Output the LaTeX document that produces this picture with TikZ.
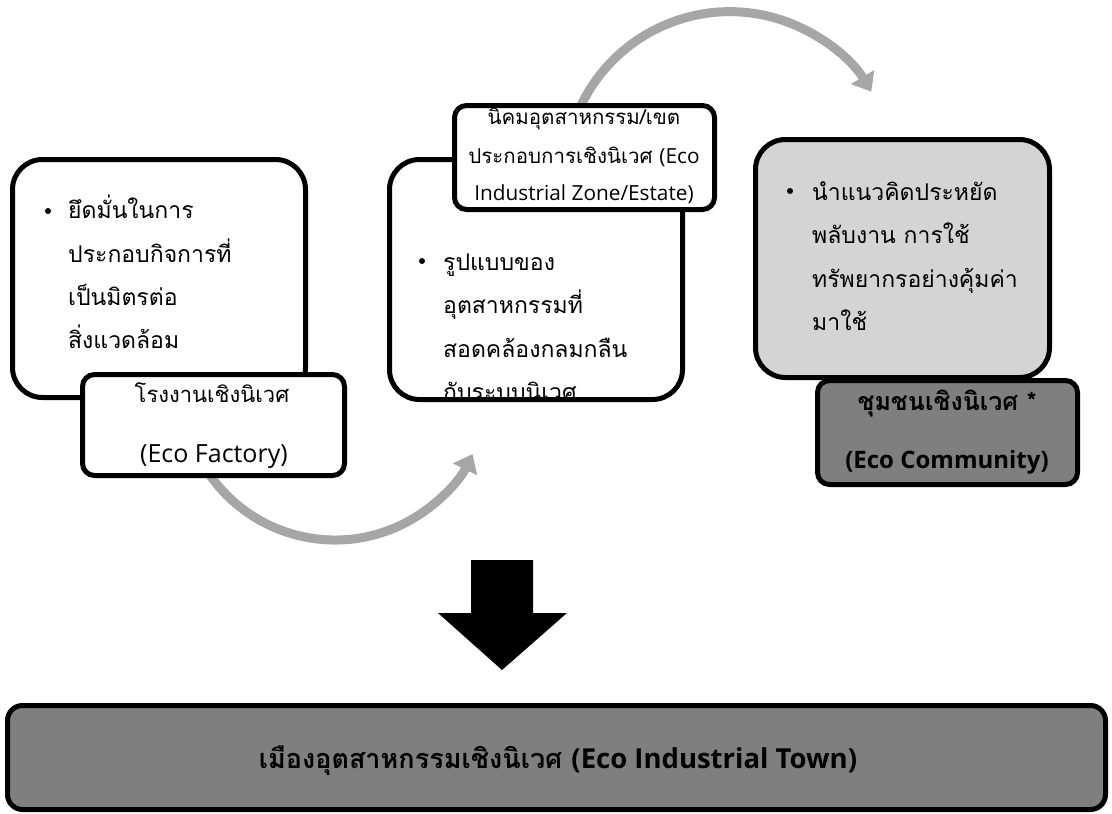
\documentclass[tikz,border=0pt]{standalone}
\usepackage{fontspec}
\setmainfont[Script=Thai]{Loma}
\newfontfamily\latf{Open Sans}
\usetikzlibrary{arrows.meta}
\definecolor{arrowgray}{HTML}{A6A6A6}
\definecolor{lightfill}{HTML}{D4D4D4}
\definecolor{darkfill}{HTML}{7F7F7F}
\newcommand{\fs}[1]{\fontsize{#1}{#1}\selectfont}
\begin{document}
\begin{tikzpicture}[x=1pt,y=-1pt,line join=round]
\tikzset{
  border/.style={draw=black,line width=5pt},
  bodytxt/.style={inner sep=0pt,anchor=base west,font=\fs{23}},
  labtxt/.style={inner sep=0pt,anchor=base},
  bulletdot/.style={circle,fill=black,inner sep=0pt,minimum size=6pt},
  circarrow/.style={draw=arrowgray,line width=9pt,-{Triangle[length=17pt,width=26pt]}},
}
\useasboundingbox (0,0) rectangle (1112,814);
\fill[white] (0,0) rectangle (1112,814);

% ---- curved arrow 1 (behind Eco Factory label)
\coordinate (c1) at (335,387);
\draw[circarrow] (c1) ++(150:153) arc[start angle=150,end angle=26,radius=153];

% ---- Box 1
\fill[white,rounded corners=30pt] (12.5,159.5) rectangle (305.5,397.5);
\draw[border,rounded corners=30pt] (12.5,159.5) rectangle (305.5,397.5);
\node[bulletdot] (b1) at (48,211) {};
\node[bodytxt] (t11) at (68,218) {ยึดมั่นในการ};
\node[bodytxt] (t12) at (68,262) {ประกอบกิจการที่};
\node[bodytxt] (t13) at (68,305) {เป็นมิตรต่อ};
\node[bodytxt] (t14) at (68,348) {สิ่งแวดล้อม};

% ---- Label 1
\fill[white,rounded corners=12pt] (82.5,374.5) rectangle (344.5,475.5);
\begin{scope}
\clip[rounded corners=12pt] (82.5,374.5) rectangle (344.5,475.5);
\node[labtxt,font=\fs{22}] (l11) at (212,402) {โรงงานเชิงนิเวศ};
\node[labtxt,font=\fs{25}\latf] (l12) at (214,462) {(Eco Factory)};
\end{scope}
\draw[border,rounded corners=12pt] (82.5,374.5) rectangle (344.5,475.5);

% ---- curved arrow 2 (behind label 2)
\coordinate (c2) at (728,176);
\draw[circarrow] (c2) ++(-160:163) arc[start angle=-160,end angle=-31,radius=165];

% ---- Box 2
\fill[white,rounded corners=30pt] (389.5,159.5) rectangle (682.5,399.5);
\begin{scope}
\clip[rounded corners=30pt] (389.5,159.5) rectangle (682.5,399.5);
\node[bulletdot] (b2) at (422,261) {};
\node[bodytxt] (t21) at (443,270) {รูปแบบของ};
\node[bodytxt] (t22) at (443,313) {อุตสาหกรรมที่};
\node[bodytxt] (t23) at (443,357) {สอดคล้องกลมกลืน};
\node[bodytxt] (t24) at (443,400) {กับระบบนิเวศ};
\end{scope}
\draw[border,rounded corners=30pt] (389.5,159.5) rectangle (682.5,399.5);

% ---- Label 2
\fill[white,rounded corners=12pt] (454.5,105.5) rectangle (714.5,209.5);
\begin{scope}
\clip[rounded corners=12pt] (454.5,105.5) rectangle (714.5,209.5);
\node[labtxt,font=\fs{20.5}] (l21) at (584,124) {นิคมอุตสาหกรรม/เขต};
\node[labtxt,font=\fs{20.5}] (l22) at (584,163) {ประกอบการเชิงนิเวศ {\latf\fs{20.8}(Eco}};
\node[labtxt,font=\fs{20.8}\latf] (l23) at (584,200) {Industrial Zone/Estate)};
\end{scope}
\draw[border,rounded corners=12pt] (454.5,105.5) rectangle (714.5,209.5);

% ---- Box 3
\draw[border,fill=lightfill,rounded corners=30pt] (755.5,139.5) rectangle (1049.5,377.5);
\node[bulletdot] (b3) at (790,191) {};
\node[bodytxt] (t31) at (812,200) {นำแนวคิดประหยัด};
\node[bodytxt] (t32) at (812,243) {พลับงาน การใช้};
\node[bodytxt] (t33) at (812,287) {ทรัพยากรอย่างคุ้มค่า};
\node[bodytxt] (t34) at (812,330) {มาใช้};

% ---- Label 3
\draw[border,fill=darkfill,rounded corners=12pt] (817.5,380.5) rectangle (1077.5,484.5);
\node[labtxt,font=\fs{25}\bfseries] (l31) at (947,410) {ชุมชนเชิงนิเวศ *};
\node[labtxt,font=\fs{24}\latf\bfseries] (l32) at (947,468) {(Eco Community)};

% ---- big down arrow
\fill[black] (471,560) -- (533,560) -- (533,613) -- (567,613) -- (502,670) -- (438,613) -- (471,613) -- cycle;

% ---- bottom box
\draw[border,fill=darkfill,rounded corners=15pt] (7.5,705.5) rectangle (1105.5,809.5);
\node[labtxt,font=\fs{27}\bfseries] (town) at (558,768) {เมืองอุตสาหกรรมเชิงนิเวศ {\latf\fs{27.5}\bfseries(Eco Industrial Town)}};
\end{tikzpicture}
\end{document}
